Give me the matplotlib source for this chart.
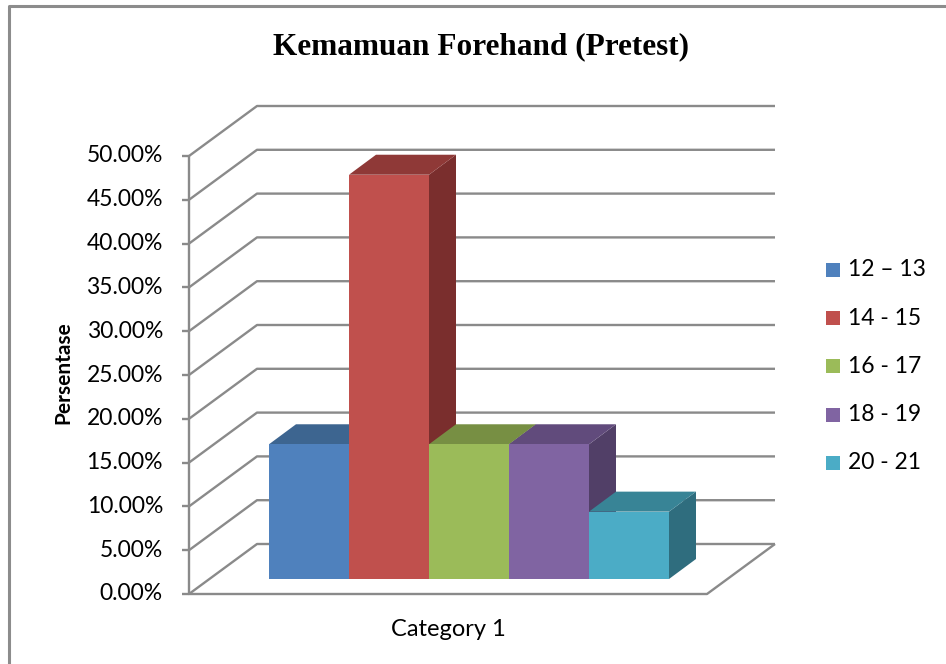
#!/usr/bin/env python3
"""Pseudo-3D clustered column chart: Kemamuan Forehand (Pretest)."""

import matplotlib

matplotlib.use("Agg")
import matplotlib.pyplot as plt  # noqa: E402
import matplotlib.transforms as mtransforms  # noqa: E402
from matplotlib.patches import Polygon, Rectangle  # noqa: E402

# data
groups = ["12 \u2013 13", "14 - 15", "16 - 17", "18 - 19", "20 - 21"]
values = [15.38, 46.15, 15.38, 15.38, 7.69]
yticks = [0, 5, 10, 15, 20, 25, 30, 35, 40, 45, 50]
category = "Category 1"

front = ["#4F81BD", "#C0504D", "#9BBB59", "#8064A2", "#4BACC6"]
top = ["#3D6590", "#8F3937", "#778F43", "#614B7C", "#388496"]
side = ["#325479", "#7A2E2D", "#63773A", "#513F67", "#2F6D7E"]

W, H, DPI = 946, 664, 100
FONT = "Lato"
fig = plt.figure(figsize=(W / DPI, H / DPI), dpi=DPI)
fig.patch.set_facecolor("white")

# axes = front plane of the 3D box (pixels 189..707 x, 594..156 y)
ax = fig.add_axes([189 / W, (H - 594) / H, (707 - 189) / W, (594 - 156) / H])
ax.set_xlim(-1.25, -1.25 + 518 / 80)
ax.set_ylim(0, 50)
ax.axis("off")


def shift(dx, dy):
    # pixel offset of the data transform (dy positive = up)
    return ax.transData + mtransforms.ScaledTranslation(dx / DPI, dy / DPI, fig.dpi_scale_trans)


to_data = ax.transData.inverted().transform
back = shift(68, 50)
bar_plane = shift(20, 15)
x0, x1 = ax.get_xlim()
grid_c = "#8A8A8A"
line_kw = dict(color=grid_c, lw=1.7, clip_on=False, zorder=1, solid_capstyle="butt")

# left wall diagonals + back wall gridlines
for v in yticks:
    pts = [ax.transData.transform((x0, v)), back.transform((x0, v)), back.transform((x1, v))]
    d = to_data(pts)
    ax.plot(d[:, 0], d[:, 1], **line_kw)
    ax.plot([x0, x0], [v, v], **line_kw)
    tick = to_data([ax.transData.transform((x0, v)) - (7, 0), ax.transData.transform((x0, v))])
    ax.plot(tick[:, 0], tick[:, 1], **line_kw)
    ax.text(x0, v, f"{v:.2f}%", transform=shift(-26, 0), ha="right", va="center",
            fontsize=16.5, family=FONT, color="black")

# front y axis and floor edges
floor = to_data([ax.transData.transform((x0, 50)), ax.transData.transform((x0, 0)),
                 ax.transData.transform((x1, 0)), back.transform((x1, 0))])
ax.plot(floor[:, 0], floor[:, 1], **line_kw)

# bars: side, top, then front face, left to right
bw = 1.0
dep = (27, 20)
for i, v in enumerate(values):
    xl, xr = i - bw / 2, i + bw / 2
    fl = bar_plane.transform((xl, v))
    fr = bar_plane.transform((xr, v))
    fb = bar_plane.transform((xr, 0))
    side_poly = to_data([fr, fr + dep, fb + dep, fb])
    top_poly = to_data([fl, fr, fr + dep, fl + dep])
    ax.add_patch(Polygon(side_poly, closed=True, facecolor=side[i], edgecolor="none",
                         zorder=3 + 3 * i, clip_on=False))
    ax.add_patch(Polygon(top_poly, closed=True, facecolor=top[i], edgecolor="none",
                         zorder=4 + 3 * i, clip_on=False))
    ax.bar(i, v, width=bw, color=front[i], transform=bar_plane, zorder=5 + 3 * i,
           label=groups[i], linewidth=0, clip_on=False)

# texts
fig.text(481 / W, 1 - 47 / H, "Kemamuan Forehand (Pretest)", ha="center", va="center",
         fontsize=22.5, fontweight="bold", family="Liberation Serif")
fig.text(63 / W, 1 - 373 / H, "Persentase", rotation=90, ha="center", va="center",
         fontsize=15, fontweight="bold", family=FONT)
fig.text(448 / W, 1 - 630 / H, category, ha="center", va="center", fontsize=17, family=FONT)

# legend
for i, g in enumerate(groups):
    y = 270 + 48.2 * i
    fig.add_artist(Rectangle((826 / W, 1 - (y + 7) / H), 14 / W, 14 / H,
                             transform=fig.transFigure, facecolor=front[i], edgecolor="none"))
    fig.text(848 / W, 1 - y / H, g, ha="left", va="center", fontsize=16.5, family=FONT)

# chart-area border (top and left edges visible)
fig.add_artist(plt.Line2D([9 / W, 9 / W, 1], [0, 1 - 6 / H, 1 - 6 / H],
                          transform=fig.transFigure, color="#8C8C8C", lw=2.2))

fig.savefig("out.png", dpi=DPI)
plt.close(fig)
